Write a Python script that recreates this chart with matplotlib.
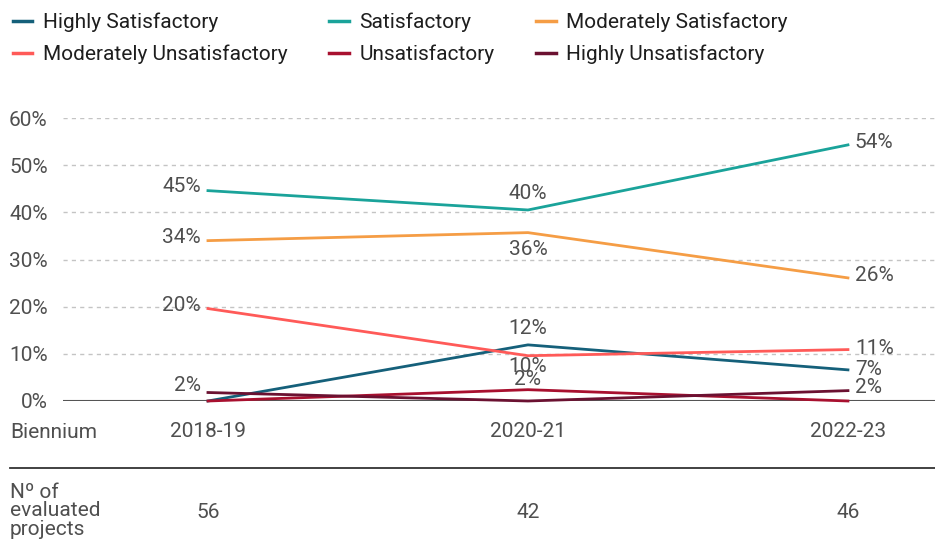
import matplotlib.pyplot as plt
from matplotlib.lines import Line2D

plt.rcParams["font.family"] = ["Roboto", "DejaVu Sans"]

# Data
biennia = ["2018-19", "2020-21", "2022-23"]
n_projects = [56, 42, 46]

ratings = [
    "Highly Satisfactory",
    "Satisfactory",
    "Moderately Satisfactory",
    "Moderately Unsatisfactory",
    "Unsatisfactory",
    "Highly Unsatisfactory",
]
highly_satisfactory = [0.0, 11.9, 6.6]
satisfactory = [44.6, 40.5, 54.3]
moderately_satisfactory = [34.0, 35.7, 26.1]
moderately_unsatisfactory = [19.6, 9.6, 10.9]
unsatisfactory = [0.0, 2.4, 0.0]
highly_unsatisfactory = [1.8, 0.0, 2.2]
series = [
    highly_satisfactory,
    satisfactory,
    moderately_satisfactory,
    moderately_unsatisfactory,
    unsatisfactory,
    highly_unsatisfactory,
]

colors = ["#15607a", "#1aa39a", "#f59d45", "#ff5a58", "#a8102f", "#6b1131"]
text_color = "#4f4f4f"
fs = 15

# label offsets (points) per series and point; None = no label
label_offsets = [
    [None, (0, 12), (5, 0)],
    [(-5, 3), (0, 12), (5, 2)],
    [(-5, 2), (0, -12), (5, 2)],
    [(-5, 2), (0, -8), (5, 1)],
    [None, (0, 7), None],
    [(-5, 5), None, (5, 2)],
]

fig = plt.figure(figsize=(9.35, 5.52), dpi=100)
ax = fig.add_axes([63 / 935, 151 / 552, 1 - 63 / 935, 283 / 552])

x = list(range(len(biennia)))
handles = []
for vals, name, col, offs in zip(series, ratings, colors, label_offsets):
    (ln,) = ax.plot(x, vals, color=col, lw=2.0, label=name, clip_on=False, zorder=3)
    handles.append(ln)
    for xi, v, off in zip(x, vals, offs):
        if off is None:
            continue
        dx, dy = off
        ha = "right" if dx < 0 else ("left" if dx > 0 else "center")
        ax.annotate(f"{v:.0f}%", (xi, v), xytext=(dx, dy), textcoords="offset points",
                    ha=ha, va="center", fontsize=fs, color=text_color, zorder=4)

ax.set_xlim(-0.453, 2.272)
ax.set_ylim(0, 60)
ax.set_yticks(range(0, 61, 10))
ax.set_yticklabels([f"{t}%" for t in range(0, 61, 10)], fontsize=fs, color=text_color)
ax.set_xticks(x)
ax.set_xticklabels(biennia, fontsize=fs, color=text_color)
ax.tick_params(axis="both", length=0)
ax.tick_params(axis="x", pad=15)
ax.tick_params(axis="y", pad=11)
for s in ax.spines.values():
    s.set_visible(False)
ax.grid(axis="y", color="#c4c4c4", linestyle=(0, (3, 3)), linewidth=1.0)
ax.axhline(0, color="#555555", lw=1.5, zorder=2)

# table-like footer
fig.text(10 / 935, 1 - 432 / 552, "Biennium", fontsize=fs, color=text_color, va="center")
fig.add_artist(Line2D([10 / 935, 1], [1 - 468 / 552] * 2, color="#333333", lw=1.3))
fig.text(10 / 935, 1 - 511 / 552, "Nº of\nevaluated\nprojects", fontsize=fs,
         color=text_color, va="center", linespacing=0.97)
for xi, n in zip(x, n_projects):
    ax.annotate(str(n), (xi, 0), xycoords=("data", "axes fraction"),
                xytext=(xi, 1 - 512 / 552), textcoords=("data", "figure fraction"),
                ha="center", va="center", fontsize=fs, color=text_color)

order = [0, 3, 1, 4, 2, 5]
leg = fig.legend([handles[i] for i in order], [ratings[i] for i in order],
                 ncol=3, loc="upper left", bbox_to_anchor=(0.0, 1.0), frameon=False,
                 fontsize=fs, handlelength=0.95, handletextpad=0.5, columnspacing=2.0,
                 labelspacing=0.6, borderaxespad=0.2)
for t in leg.get_texts():
    t.set_color("#1e1e1e")
for h in leg.legend_handles:
    h.set_linewidth(2.5)

fig.savefig("out.png", dpi=100)
